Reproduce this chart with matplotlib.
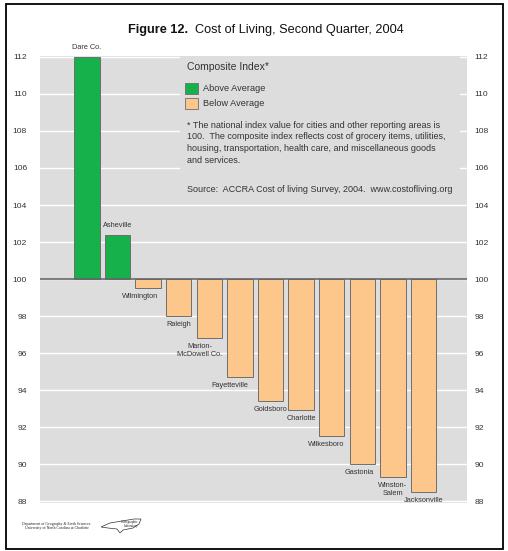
import matplotlib
matplotlib.use("Agg")
import matplotlib.pyplot as plt
from matplotlib.patches import Rectangle, Polygon

plt.rcParams['font.family'] = ['Liberation Sans', 'DejaVu Sans']

# ---- data ----
places = ["Dare Co.", "Asheville", "Wilmington", "Raleigh", "Marion-\nMcDowell Co.",
          "Fayetteville", "Goldsboro", "Charlotte", "Wilkesboro", "Gastonia",
          "Winston-\nSalem", "Jacksonville"]
index_values = [112.0, 102.4, 99.5, 98.0, 96.8, 94.7, 93.4, 92.9, 91.5, 90.0, 89.3, 88.5]
yticks = [88, 90, 92, 94, 96, 98, 100, 102, 104, 106, 108, 110, 112]
baseline = 100

# ---- styling ----
W, H = 508, 551
GREEN = '#16b14b'
ORANGE = '#fdc68a'
BG = '#dcdddc'
EDGE = '#6e6e6e'
TXT = '#333333'
label_dx = {"Wilmington": -6, "Marion-\nMcDowell Co.": -7, "Fayetteville": -7, "Wilkesboro": -4,
            "Gastonia": -2}

def fx(px):
    return px / W

def fy(py):
    return 1 - py / H

fig = plt.figure(figsize=(W / 100, H / 100), dpi=100)
fig.patch.set_facecolor('white')

ax = fig.add_axes([fx(40), fy(503), fx(467) - fx(40), fy(56) - fy(503)])
ax.set_facecolor(BG)
ax.set_xlim(-1.53, 12.42)
ax.set_ylim(87.9, 112.05)
ax.set_axisbelow(True)

ax2 = ax.twinx()
ax2.set_ylim(ax.get_ylim())
ax2.set_yticks(yticks)
for s in ax2.spines.values():
    s.set_visible(False)
ax2.tick_params(axis='y', left=False, right=False, length=0, labelleft=False, labelright=True,
                labelsize=6.1, labelcolor=TXT, pad=5.3)

for s in ax.spines.values():
    s.set_visible(False)
ax.set_yticks(yticks)
ax.yaxis.grid(True, color='white', linewidth=1.0, zorder=0.5)
ax.set_xticks([])
ax.tick_params(axis='y', left=False, right=False, length=0, labelleft=True, labelright=False,
               labelsize=6.1, labelcolor=TXT, pad=9.3)

# legend box occluding gridlines
ax.add_patch(Rectangle((3.05, 104.2), 12.2 - 3.05, 112.05 - 104.2, facecolor=BG,
                       edgecolor='none', zorder=1))

xs = list(range(len(places)))
for x, name, v in zip(xs, places, index_values):
    color = GREEN if v >= baseline else ORANGE
    ax.bar(x, v - baseline, bottom=baseline, width=0.83, color=color, edgecolor=EDGE,
           linewidth=0.7, zorder=2)
    dx = label_dx.get(name, 0)
    if v >= baseline:
        ax.annotate(name, (x, v), xytext=(dx, 4), textcoords='offset points',
                    ha='center', va='bottom', fontsize=5.3, color=TXT)
    else:
        ax.annotate(name, (x, v), xytext=(dx, -3.5), textcoords='offset points',
                    ha='center', va='top', fontsize=5.3, color=TXT, linespacing=1.2)

ax.axhline(baseline, color='#666666', linewidth=1.2, zorder=3)

# ---- title ----
t1 = fig.text(fx(128), fy(32.5), "Figure 12.", fontsize=9.2, fontweight='bold',
              ha='left', va='baseline', color='#111111')
fig.canvas.draw()
bb = t1.get_window_extent()
fig.text(fx(bb.x1 + 7), fy(32.5), "Cost of Living, Second Quarter, 2004", fontsize=9.2,
         ha='left', va='baseline', color='#111111')

# ---- legend / notes ----
fig.text(fx(187), fy(67), "Composite Index*", fontsize=7.5, ha='left', va='center', color=TXT)
fig.patches.append(Rectangle((fx(185), fy(94)), fx(13), 11 / H, facecolor=GREEN,
                             edgecolor=EDGE, linewidth=0.6, transform=fig.transFigure, figure=fig))
fig.patches.append(Rectangle((fx(185), fy(109)), fx(13), 11 / H, facecolor=ORANGE,
                             edgecolor=EDGE, linewidth=0.6, transform=fig.transFigure, figure=fig))
fig.text(fx(203), fy(88.5), "Above Average", fontsize=6.6, ha='left', va='center', color=TXT)
fig.text(fx(203), fy(103), "Below Average", fontsize=6.6, ha='left', va='center', color=TXT)
note = ("* The national index value for cities and other reporting areas is\n"
        "100.  The composite index reflects cost of grocery items, utilities,\n"
        "housing, transportation, health care, and miscellaneous goods\n"
        "and services.")
fig.text(fx(187), fy(120.5), note, fontsize=6.45, ha='left', va='top', color=TXT,
         linespacing=1.4)
fig.text(fx(187), fy(189), "Source:  ACCRA Cost of living Survey, 2004.  www.costofliving.org",
         fontsize=6.5, ha='left', va='center', color=TXT)

# ---- footer credit ----
fig.text(fx(22), fy(524), "Department of Geography & Earth Sciences", fontsize=2.8,
         family='Liberation Serif', ha='left', va='center', color='#222222')
fig.text(fx(25), fy(528.5), "University of North Carolina at Charlotte", fontsize=2.8,
         family='Liberation Serif', ha='left', va='center', color='#222222')
nc = [(101, 527), (110, 523), (122, 521), (134, 519), (141, 519), (139, 524), (133, 528),
      (123, 530), (120, 533), (117, 529), (108, 528)]
fig.patches.append(Polygon([(fx(a), fy(b)) for a, b in nc], closed=True, facecolor='white',
                           edgecolor='#333333', linewidth=0.5, transform=fig.transFigure,
                           figure=fig))
fig.text(fx(130), fy(521.5), "Cartographic", fontsize=2.4, family='Liberation Serif',
         ha='center', va='center', color='#222222')
fig.text(fx(131), fy(526), "Laboratory", fontsize=2.4, family='Liberation Serif',
         ha='center', va='center', color='#222222')

# ---- frame ----
fig.patches.append(Rectangle((fx(6), fy(549)), fx(503) - fx(6), fy(4) - fy(549), fill=False,
                             edgecolor='black', linewidth=1.3, transform=fig.transFigure,
                             figure=fig))

fig.savefig("out.png", dpi=100, facecolor='white')
